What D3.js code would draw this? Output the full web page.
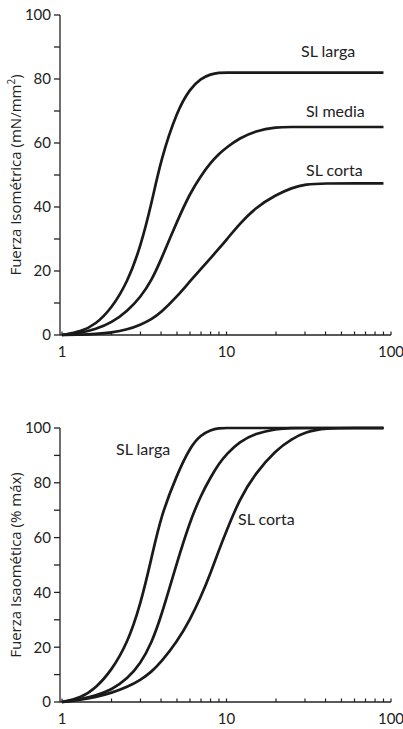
<!DOCTYPE html>
<html>
<head>
<meta charset="utf-8">
<script src="https://d3js.org/d3.v7.min.js"></script>
<style>
  body { margin: 0; background: #fff; }
  svg { display: block; font-family: Lato, "Open Sans", sans-serif; }
</style>
</head>
<body>
<svg id="chart" width="403" height="729"></svg>
<script>
// Calcium concentration grid (log axis)
const xVals = [1, 1.3, 1.6, 2, 2.5, 3, 3.5, 4, 5, 6, 7, 8, 9, 10, 12, 15, 20, 25, 30, 40, 60, 90];

// Top panel: absolute isometric force (mN/mm2)
const topLarga = [0, 1, 3.3, 8.3, 16.5, 27.5, 41, 55, 70, 77, 80.2, 81.5, 82, 82, 82, 82, 82, 82, 82, 82, 82, 82];
const topMedia = [0, 0.6, 1.8, 3.8, 7.5, 11.8, 17, 23.5, 35.5, 44.3, 49.8, 53.8, 56.6, 58.6, 61.5, 63.8, 65, 65, 65, 65, 65, 65];
const topCorta = [0, 0.1, 0.3, 0.7, 1.7, 3.2, 4.9, 7, 12, 16.8, 20.7, 24, 27, 29.8, 34.7, 39.8, 43.8, 46, 47.1, 47.4, 47.4, 47.4];

// Bottom panel: normalized force (% max)
const botLarga = [0, 1.5, 5, 11.5, 21.5, 35.5, 52.5, 68, 83, 93, 97.5, 99.3, 100, 100, 100, 100, 100, 100, 100, 100, 100, 100];
const botMedia = [0, 1, 2.3, 4.4, 8.5, 14, 21.5, 31, 51, 66, 75.5, 82, 87, 90.5, 95, 98, 99.7, 100, 100, 100, 100, 100];
const botCorta = [0, 0.8, 1.8, 3.3, 5.5, 8, 11, 14.5, 22, 30, 38.5, 47, 55.5, 62.5, 74, 83.5, 92, 96, 98.5, 100, 100, 100];

const xTickValues = [1, 2, 3, 4, 5, 6, 7, 8, 9, 10, 20, 30, 40, 50, 60, 70, 80, 90, 100];
const xTickLabels = [1, 10, 100];
const yTickValues = [0, 10, 20, 30, 40, 50, 60, 70, 80, 90, 100];
const yTickLabels = [0, 20, 40, 60, 80, 100];

const svg = d3.select('#chart');

function drawPanel(opts) {
    const x = d3.scaleLog().domain([1, 100]).range([62, 391]);
    const y = d3.scaleLinear().domain([0, 100]).range([opts.bottom, opts.top]);
    const g = svg.append('g');

    // y axis
    g.append('line')
        .attr('x1', 60).attr('x2', 60)
        .attr('y1', y(100)).attr('y2', y(0))
        .attr('stroke', '#222').attr('stroke-width', 1.3);
    g.selectAll('.ytick').data(yTickValues).enter().append('line')
        .attr('x1', 54).attr('x2', 60)
        .attr('y1', d => y(d)).attr('y2', d => y(d))
        .attr('stroke', '#222').attr('stroke-width', 1.3);
    g.selectAll('.ylab').data(yTickLabels).enter().append('text')
        .attr('x', 51).attr('y', d => y(d))
        .attr('dy', '0.36em')
        .attr('text-anchor', 'end')
        .style('font-size', '15px')
        .attr('fill', '#222')
        .text(d => d);

    // x axis
    g.append('line')
        .attr('x1', 60).attr('x2', x(100))
        .attr('y1', y(0)).attr('y2', y(0))
        .attr('stroke', '#222').attr('stroke-width', 1.3);
    g.selectAll('.xtick').data(xTickValues).enter().append('line')
        .attr('x1', d => x(d)).attr('x2', d => x(d))
        .attr('y1', y(0)).attr('y2', y(0) - 3.5)
        .attr('stroke', '#222').attr('stroke-width', 1.2);
    g.selectAll('.xlab').data(xTickLabels).enter().append('text')
        .attr('x', d => x(d)).attr('y', y(0) + 17)
        .attr('dy', '0.36em')
        .attr('text-anchor', 'middle')
        .style('font-size', '15px')
        .attr('fill', '#222')
        .text(d => d);

    // axis title
    g.append('text')
        .attr('transform', `translate(21,${(y(0) + y(100)) / 2}) rotate(-90)`)
        .attr('text-anchor', 'middle')
        .style('font-family', '"Open Sans", sans-serif')
        .style('font-size', '15px')
        .attr('fill', '#222')
        .html(opts.title);

    // curves
    const line = d3.line()
        .x((d, i) => x(xVals[i]))
        .y(d => y(d))
        .curve(d3.curveBasis);
    opts.series.forEach(s => {
        g.append('path')
            .attr('d', line(s))
            .attr('fill', 'none')
            .attr('stroke', '#1a1a1a')
            .attr('stroke-width', 2.7);
    });

    opts.labels.forEach(l => {
        g.append('text')
            .attr('x', l.x).attr('y', l.y)
            .style('font-size', '16px')
            .attr('fill', '#222')
            .text(l.text);
    });
}

drawPanel({
    top: 15, bottom: 335,
    title: 'Fuerza Isométrica (mN/mm<tspan dy="-6" font-size="10">2</tspan><tspan dy="6">)</tspan>',
    series: [topLarga, topMedia, topCorta],
    labels: [
        { text: 'SL larga', x: 301, y: 57 },
        { text: 'Sl media', x: 306, y: 117 },
        { text: 'SL corta', x: 306, y: 176 }
    ]
});

drawPanel({
    top: 428, bottom: 702,
    title: 'Fuerza Isaomética (% máx)',
    series: [botLarga, botMedia, botCorta],
    labels: [
        { text: 'SL larga', x: 116, y: 455 },
        { text: 'SL corta', x: 238, y: 525 }
    ]
});
</script>
</body>
</html>
